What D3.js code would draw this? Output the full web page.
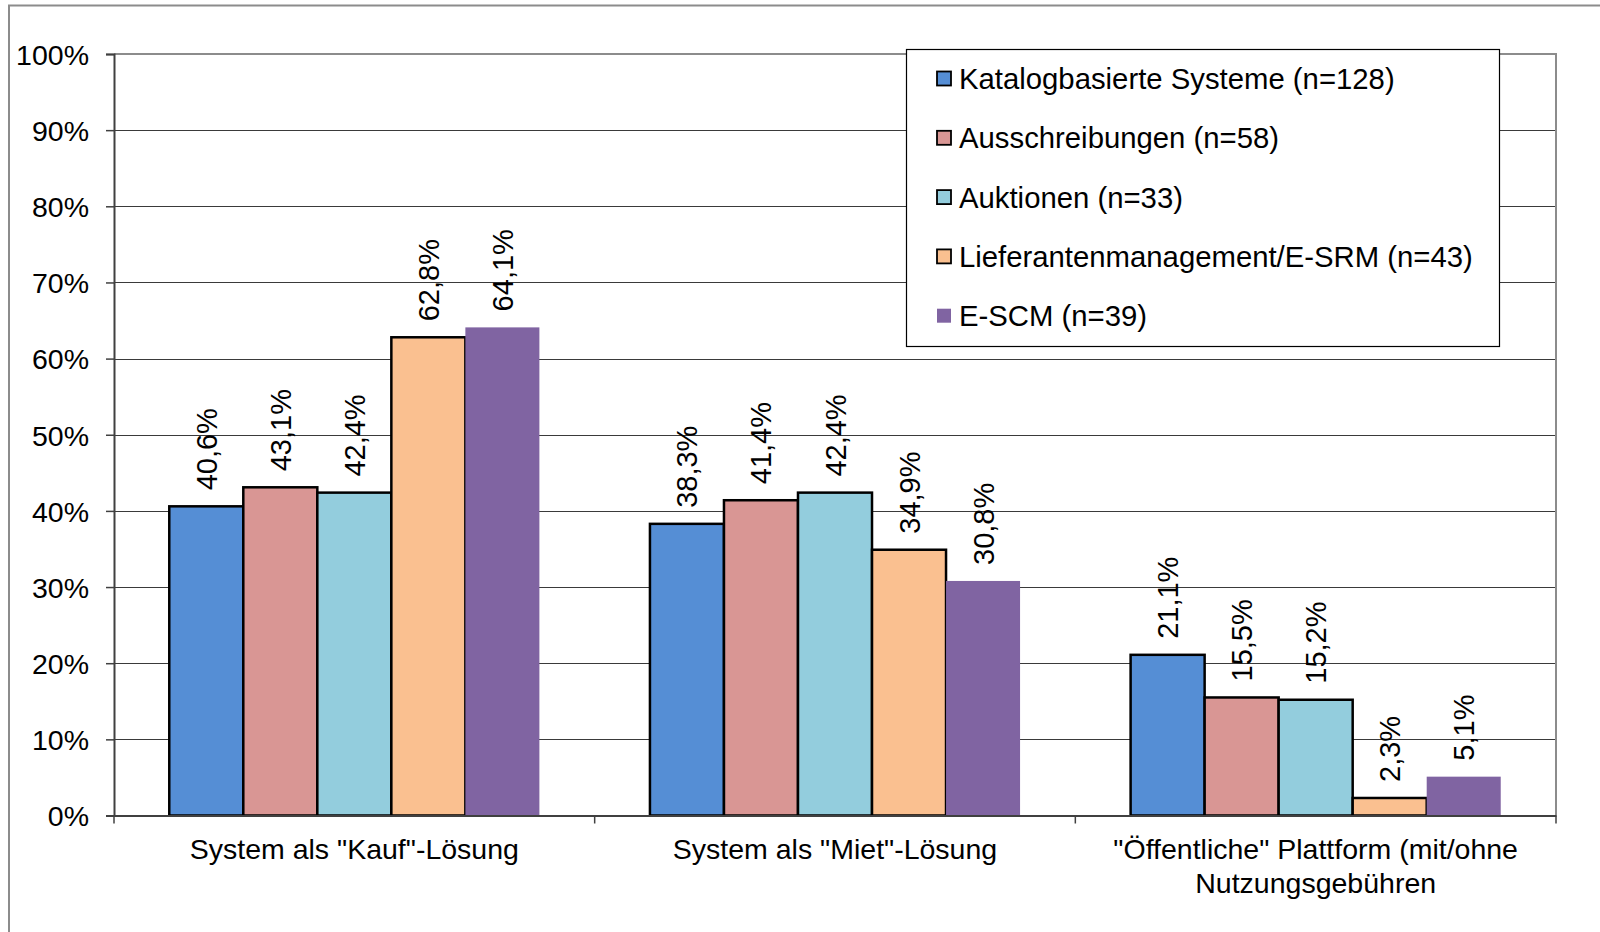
<!DOCTYPE html>
<html>
<head>
<meta charset="utf-8">
<script src="https://cdn.jsdelivr.net/npm/d3@7"></script>
<style>
html,body{margin:0;padding:0;background:#fff;}
svg{display:block;}
text{font-family:"Liberation Sans",Arial,sans-serif;fill:#000;}
</style>
</head>
<body>
<svg id="chart" width="1600" height="932"></svg>
<script>
const categories = [["System als \"Kauf\"-Lösung"], ["System als \"Miet\"-Lösung"], ["\"Öffentliche\" Plattform (mit/ohne", "Nutzungsgebühren"]];
const seriesNames = ["Katalogbasierte Systeme (n=128)", "Ausschreibungen (n=58)", "Auktionen (n=33)", "Lieferantenmanagement/E-SRM (n=43)", "E-SCM (n=39)"];
const seriesColors = ["#558ED5", "#D99694", "#93CDDD", "#FAC090", "#8064A2"];
const seriesStroke = [true, true, true, true, false];
const katalog = [40.6, 38.3, 21.1];
const ausschreibungen = [43.1, 41.4, 15.5];
const auktionen = [42.4, 42.4, 15.2];
const lieferanten = [62.8, 34.9, 2.3];
const escm = [64.1, 30.8, 5.1];
const seriesValues = [katalog, ausschreibungen, auktionen, lieferanten, escm];
const yTicks = [0, 10, 20, 30, 40, 50, 60, 70, 80, 90, 100];

const svg = d3.select("#chart");
const fsAxis = 28.5;
const fsLabel = 29;
const fsLegend = 29.3;
const plot = {left: 114, right: 1556, top: 54, bottom: 815.5};

// outer frame
svg.append("path").attr("d", `M9,932 V5.5 H1600`).attr("fill", "none").attr("stroke", "#8c8c8c").attr("stroke-width", 2);

const y = d3.scaleLinear().domain([0, 100]).range([plot.bottom, plot.top]);
const catIdx = d3.range(categories.length);
const x0 = d3.scaleBand().domain(catIdx).range([plot.left, plot.right]).paddingInner(0.23).paddingOuter(0.115);
const x1 = d3.scaleBand().domain(d3.range(seriesNames.length)).range([0, x0.bandwidth()]);

// gridlines
svg.append("g").selectAll("line").data(yTicks.filter(t => t > 0 && t < 100)).join("line")
  .attr("x1", plot.left).attr("x2", plot.right)
  .attr("y1", d => Math.round(y(d)) + 0.5).attr("y2", d => Math.round(y(d)) + 0.5)
  .attr("stroke", "#3a3a3a").attr("stroke-width", 1.2);

// plot area border top/right
svg.append("path").attr("d", `M${plot.left},${plot.top} H${plot.right} V${plot.bottom}`)
  .attr("fill", "none").attr("stroke", "#8c8c8c").attr("stroke-width", 2);

// bars
const groups = svg.append("g").selectAll("g").data(catIdx).join("g")
  .attr("transform", c => `translate(${x0(c)},0)`);
groups.selectAll("rect").data(c => seriesValues.map((vals, s) => ({s, v: vals[c]}))).join("rect")
  .attr("x", d => x1(d.s)).attr("width", x1.bandwidth())
  .attr("y", d => y(d.v)).attr("height", d => y(0) - y(d.v))
  .attr("fill", d => seriesColors[d.s])
  .attr("stroke", d => seriesStroke[d.s] ? "#000" : "none")
  .attr("stroke-width", 2.5);

// data labels
groups.selectAll("text").data(c => seriesValues.map((vals, s) => ({s, v: vals[c]}))).join("text")
  .attr("transform", d => `translate(${x1(d.s) + x1.bandwidth() / 2 + 10.5},${y(d.v) - 16}) rotate(-90)`)
  .attr("font-size", fsLabel)
  .text(d => d.v.toFixed(1).replace(".", ",") + "%");

// y axis
const yAxis = d3.axisLeft(y).tickValues(yTicks).tickSize(8).tickFormat(d => d + "%");
const gy = svg.append("g").attr("transform", `translate(${plot.left},0)`).call(yAxis);
gy.select(".domain").attr("stroke", "#404040").attr("stroke-width", 2);
gy.selectAll(".tick line").attr("stroke", "#404040").attr("stroke-width", 1.5);
gy.selectAll(".tick text").attr("font-size", fsAxis).attr("font-family", "Liberation Sans, Arial, sans-serif").attr("fill", "#000").attr("x", -25).attr("dy", "0.36em");

// x axis line and ticks
const xAxis = d3.axisBottom(x0).tickSize(0).tickFormat("");
const gx = svg.append("g").attr("transform", `translate(0,${plot.bottom})`).call(xAxis);
gx.select(".domain").attr("stroke", "#404040").attr("stroke-width", 2);
const bounds = [plot.left].concat(catIdx.map(c => x0(c) + x0.bandwidth() + x0.step() * x0.paddingInner() / 2));
gx.selectAll(".cattick").data(bounds).join("line").attr("class", "cattick")
  .attr("x1", d => d).attr("x2", d => d).attr("y1", 0).attr("y2", 8)
  .attr("stroke", "#404040").attr("stroke-width", 1.5);

// category labels
svg.append("g").selectAll("text").data(catIdx).join("text")
  .attr("x", c => x0(c) + x0.bandwidth() / 2).attr("y", 859)
  .attr("text-anchor", "middle").attr("font-size", fsAxis)
  .selectAll("tspan").data(c => categories[c]).join("tspan")
  .attr("x", function() { return d3.select(this.parentNode).attr("x"); })
  .attr("dy", (d, i) => i === 0 ? 0 : 34)
  .text(d => d);

// legend
const lg = svg.append("g");
lg.append("rect").attr("x", 906.5).attr("y", 49.5).attr("width", 593).attr("height", 297)
  .attr("fill", "#fff").attr("stroke", "#000").attr("stroke-width", 1.2);
const items = lg.selectAll("g").data(seriesNames).join("g")
  .attr("transform", (d, i) => `translate(937,${78.5 + i * 59.3})`);
items.append("rect").attr("x", 0).attr("y", -7).attr("width", 14).attr("height", 14)
  .attr("fill", (d, i) => seriesColors[i])
  .attr("stroke", (d, i) => seriesStroke[i] ? "#000" : "none").attr("stroke-width", 1.8);
items.append("text").attr("x", 22).attr("y", 0).attr("dy", "0.36em").attr("font-size", fsLegend).text(d => d);
</script>
</body>
</html>
